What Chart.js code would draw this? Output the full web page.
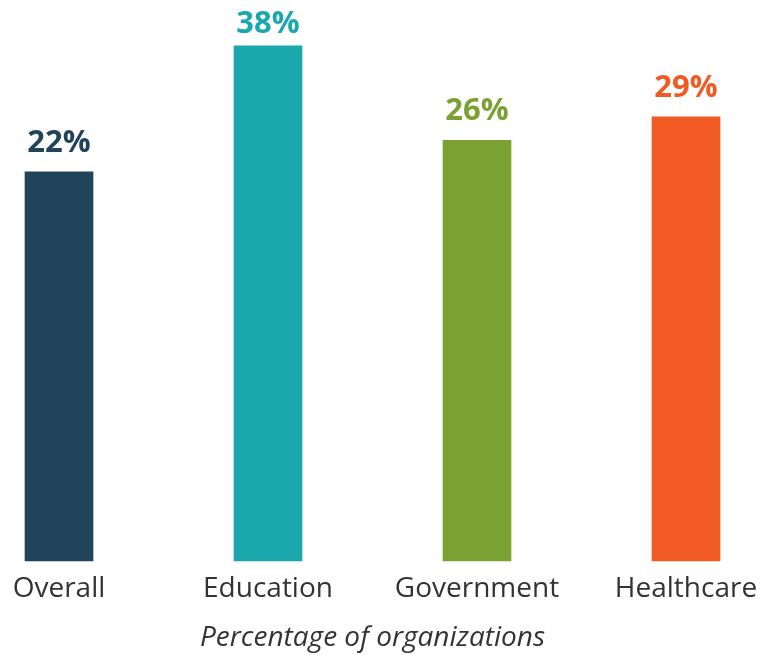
<!DOCTYPE html>
<html>
<head>
<meta charset="utf-8">
<script src="https://cdn.jsdelivr.net/npm/chart.js@4.4.0/dist/chart.umd.min.js"></script>
<style>
  html, body { margin: 0; padding: 0; background: #fff; }
  #wrap { position: relative; width: 770px; height: 655px; }
</style>
</head>
<body>
<div id="wrap"><canvas id="chart"></canvas></div>
<script>
// ==== DATA ====
var categories = ['Overall', 'Education', 'Government', 'Healthcare'];
var values = [22, 38, 26, 29];
var barColors = ['#20455b', '#1ba8ad', '#7aa132', '#f15a22'];
var axisTitle = 'Percentage of organizations';

// the source axis doesn't start at zero
var Y_MIN = -27.3, Y_MAX = 43.8;
var FONT = '"Open Sans", "Noto Sans", sans-serif';

// ==== VALUE LABELS ====
var valueLabels = {
  id: 'valueLabels',
  afterDatasetsDraw: function (chart) {
    var ctx = chart.ctx;
    var meta = chart.getDatasetMeta(0);
    ctx.save();
    ctx.font = 'bold 31px ' + FONT;
    ctx.textAlign = 'center';
    ctx.textBaseline = 'alphabetic';
    meta.data.forEach(function (bar, i) {
      ctx.fillStyle = barColors[i];
      // keep the tallest label inside the canvas
      ctx.fillText(values[i] + '%', bar.x, Math.max(bar.y - 20, 33));
    });
    ctx.restore();
  }
};

new Chart(document.getElementById('chart').getContext('2d'), {
  type: 'bar',
  data: {
    labels: categories,
    datasets: [{
      data: values,
      base: Y_MIN,
      backgroundColor: barColors,
      barThickness: 68,
      borderWidth: 0,
      clip: false
    }]
  },
  options: {
    responsive: true,
    maintainAspectRatio: false,
    animation: false,
    layout: { padding: { left: 59, right: 84, top: 0, bottom: 0 } },
    plugins: { legend: { display: false }, tooltip: { enabled: false } },
    scales: {
      x: {
        offset: false,
        grid: { display: false, drawTicks: false },
        border: { display: false },
        ticks: { color: '#333', padding: 11, font: { family: FONT, size: 28 } },
        title: {
          display: true, text: axisTitle, color: '#333',
          padding: { top: 5, bottom: 0 },
          font: { family: FONT, size: 28, style: 'italic' }
        }
      },
      y: {
        display: false,
        min: Y_MIN,
        max: Y_MAX
      }
    }
  },
  plugins: [valueLabels]
});
</script>
</body>
</html>
